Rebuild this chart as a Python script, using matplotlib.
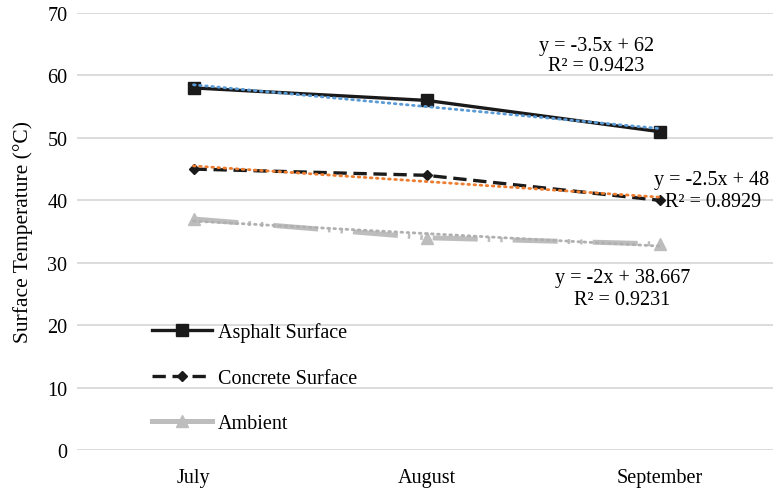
import matplotlib
matplotlib.use("Agg")
import matplotlib.pyplot as plt
import numpy as np

plt.rcParams['font.family'] = ['Liberation Serif', 'DejaVu Serif']

months = ["July", "August", "September"]
asphalt = [58, 56, 51]
concrete = [45, 44, 40]
ambient = [37, 34, 33]

# linear trend coefficients (slope, intercept) with x = 1, 2, 3
trend_asphalt = (-3.5, 62.0)
trend_concrete = (-2.5, 48.0)
trend_ambient = (-2.0, 38.667)
r2_values = [0.9423, 0.8929, 0.9231]

yticks = [0, 10, 20, 30, 40, 50, 60, 70]

fig = plt.figure(figsize=(7.73, 4.89), dpi=100)
ax = fig.add_axes([77 / 773, 38 / 489, 699 / 773, 437 / 489])

x = np.arange(len(months))
xt = x + 1

for v in yticks:
    ax.axhline(v, color="#d9d9d9", lw=1.3, zorder=0)

ax.plot(x, asphalt, color="#1a1a1a", lw=2.4, marker="s", ms=8,
        label="Asphalt Surface", zorder=3)
ax.plot(x, concrete, color="#1a1a1a", lw=2.4, ls=(0, (4, 2)), marker="D", ms=5.5,
        label="Concrete Surface", zorder=3)
ax.plot(x, ambient, color="#bdbdbd", lw=3.6, ls=(0, (9, 2, 0.5, 2, 0.5, 2)),
        marker="^", ms=9, label="Ambient", zorder=2)

for (m, b), col in [(trend_asphalt, "#5b9bd5"), (trend_concrete, "#ed7d31"),
                    (trend_ambient, "#b0b0b0")]:
    ax.plot(x, m * xt + b, color=col, lw=2.0, ls=(0, (0.6, 1.6)),
            dash_capstyle="round", zorder=4)

def eq_text(m, b):
    return f"y = {m:g}x + {b:g}"

fs = 14.5
ax.text(1.73, 64.8, eq_text(*trend_asphalt), ha="center", va="center", fontsize=fs)
ax.text(1.73, 61.6, f"R² = {r2_values[0]}", ha="center", va="center", fontsize=fs)
ax.text(2.225, 43.3, eq_text(*trend_concrete), ha="center", va="center", fontsize=fs)
ax.text(2.23, 39.8, f"R² = {r2_values[1]}", ha="center", va="center", fontsize=fs)
ax.text(1.84, 27.6, eq_text(*trend_ambient), ha="center", va="center", fontsize=fs)
ax.text(1.84, 24.1, f"R² = {r2_values[2]}", ha="center", va="center", fontsize=fs)

ax.set_xlim(-0.5, 2.5)
ax.set_ylim(0, 70)
ax.set_xticks(x)
ax.set_xticklabels(months, fontsize=fs)
ax.set_yticks(yticks)
ax.set_yticklabels([str(v) for v in yticks], fontsize=fs)
ax.tick_params(axis="y", length=0, pad=7)
ax.tick_params(axis="x", length=0, pad=13)
ax.set_ylabel("Surface Temperature (°C)", fontsize=15.5, labelpad=10)
for s in ax.spines.values():
    s.set_visible(False)

leg = ax.legend(loc="upper left", bbox_to_anchor=(0.0955, 0.31), frameon=False,
                fontsize=fs, handlelength=3.0, handletextpad=0.3, labelspacing=1.3,
                borderaxespad=0)
leg.get_lines()[2].set_linestyle("-")

fig.savefig("out.png", dpi=100)
